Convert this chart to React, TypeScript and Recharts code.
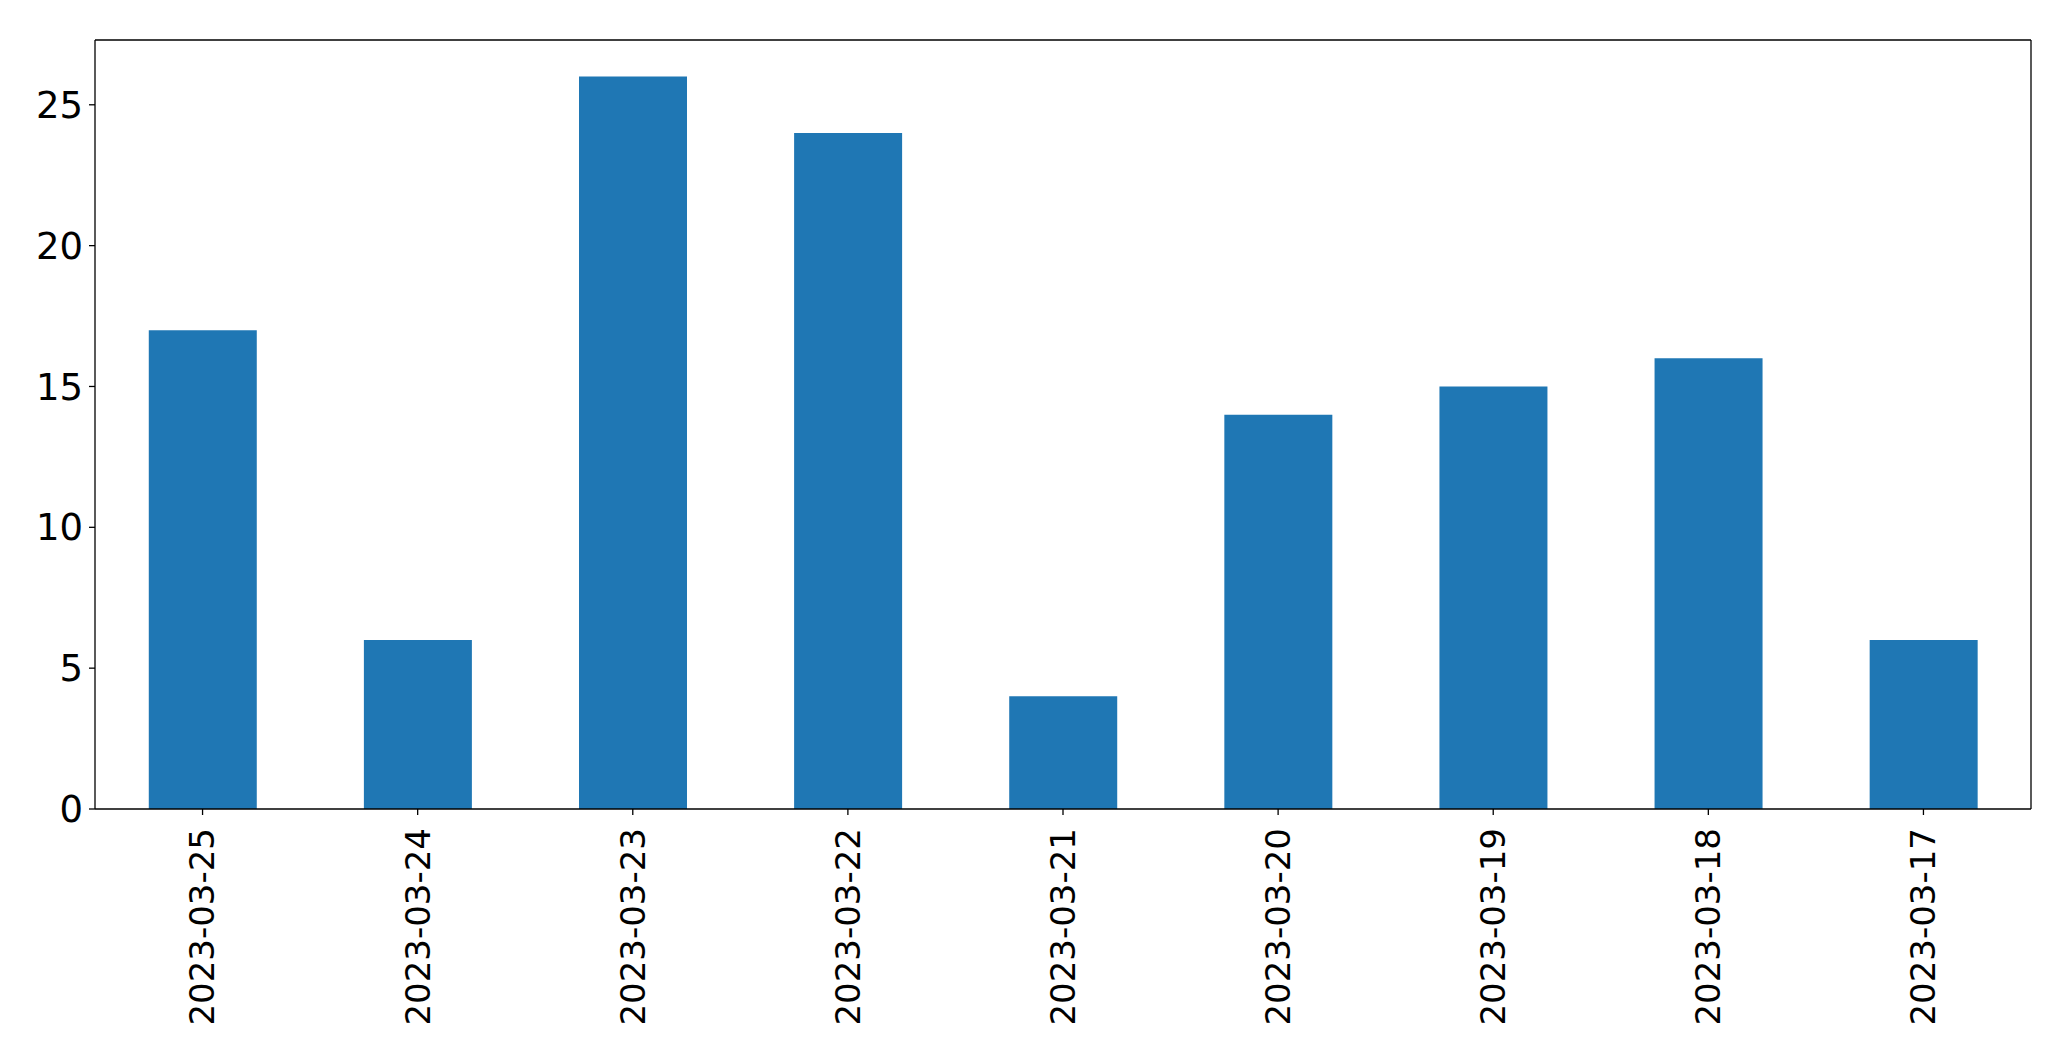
import React from 'react';
import { BarChart, Bar, XAxis, YAxis, CartesianGrid } from 'recharts';

const dates = [
  '2023-03-25', '2023-03-24', '2023-03-23', '2023-03-22', '2023-03-21',
  '2023-03-20', '2023-03-19', '2023-03-18', '2023-03-17',
];
const counts = [17, 6, 26, 24, 4, 14, 15, 16, 6];
const yTicks = [0, 5, 10, 15, 20, 25];

const data = dates.map((d, i) => ({ date: d, count: counts[i] }));

const FONT = 'DejaVu Sans';

const DateTick = (props: any) => {
  const { x, y, payload } = props;
  return (
    <text
      x={x}
      y={y}
      transform={`rotate(-90, ${x}, ${y})`}
      textAnchor="end"
      dy="0.35em"
      fontFamily={FONT}
      fontSize={34}
      fill="#000"
    >
      {payload.value}
    </text>
  );
};

// frame lines on the top and right edges of the plot area
const topEdge = ({ offset }: any) => [offset.top];
const rightEdge = ({ offset }: any) => [offset.left + offset.width];

const App: React.FC = () => (
  <div style={{ position: 'absolute', left: 0, top: 0, background: '#fff' }}>
    <BarChart
      width={2071}
      height={1061}
      data={data}
      margin={{ top: 40, right: 40, left: 0, bottom: 0 }}
      barCategoryGap="25%"
    >
      <CartesianGrid
        stroke="#000"
        strokeWidth={1.3}
        horizontalCoordinatesGenerator={topEdge}
        verticalCoordinatesGenerator={rightEdge}
      />
      <XAxis
        dataKey="date"
        height={252}
        interval={0}
        tick={<DateTick />}
        tickSize={6}
        tickMargin={13}
        axisLine={{ stroke: '#000', strokeWidth: 1.3 }}
        tickLine={{ stroke: '#000', strokeWidth: 1.3 }}
      />
      <YAxis
        width={95}
        domain={[0, 27.3]}
        ticks={yTicks}
        allowDataOverflow
        tickSize={6}
        tickMargin={6}
        tick={{ fontFamily: FONT, fontSize: 37, fill: '#000' }}
        axisLine={{ stroke: '#000', strokeWidth: 1.3 }}
        tickLine={{ stroke: '#000', strokeWidth: 1.3 }}
      />
      <Bar dataKey="count" fill="#1f77b4" isAnimationActive={false} />
    </BarChart>
  </div>
);

export default App;
